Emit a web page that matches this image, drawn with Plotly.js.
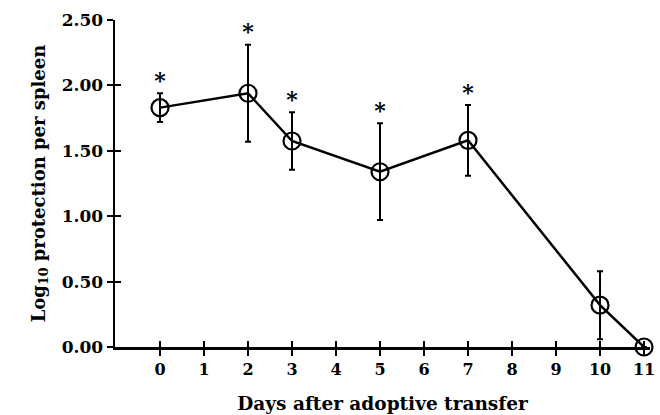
<!DOCTYPE html>
<html>
<head>
<meta charset="utf-8">
<script src="https://cdn.plot.ly/plotly-3.0.1.min.js"></script>
<style>html,body{margin:0;padding:0;background:#fff;}#chart{width:660px;height:415px;}</style>
</head>
<body>
<div id="chart"></div>
<script>
var days = [0, 2, 3, 5, 7, 10, 11];
var protection = [1.83, 1.94, 1.575, 1.34, 1.58, 0.32, 0.0];
var errorSE = [0.11, 0.37, 0.22, 0.37, 0.27, 0.26, 0];
var significant = [true, true, true, true, true, false, false];
var xTicks = [0, 1, 2, 3, 4, 5, 6, 7, 8, 9, 10, 11];
var yTicks = [0, 0.5, 1.0, 1.5, 2.0, 2.5];
var yTickText = ["0.00", "0.50", "1.00", "1.50", "2.00", "2.50"];

var FONT = "DejaVu Serif";
var starX = [], starY = [], starT = [];
days.forEach(function (d, i) {
  if (significant[i]) { starX.push(d); starY.push(protection[i] + errorSE[i]); starT.push("*"); }
});

var traces = [
  {
    x: days, y: protection, type: "scatter", mode: "lines+markers",
    line: {color: "#000", width: 2.5},
    marker: {symbol: "circle-open", size: 17, color: "#000", line: {width: 2.2, color: "#000"}},
    error_y: {type: "data", array: errorSE, visible: true, color: "#000", thickness: 2, width: 3},
    cliponaxis: false, hoverinfo: "skip", showlegend: false
  },
  {
    x: starX, y: starY, type: "scatter", mode: "text",
    text: starT, textposition: "top center",
    textfont: {family: FONT, size: 22, color: "#000", weight: "bold"},
    cliponaxis: false, hoverinfo: "skip", showlegend: false
  }
];

var xRange = [-1.023, 11.136];
var yRange = [0, 2.5];

var layout = {
  width: 660, height: 415,
  margin: {l: 115, r: 10, t: 20, b: 68},
  paper_bgcolor: "#fff", plot_bgcolor: "#fff",
  font: {family: FONT, color: "#000", weight: "bold"},
  showlegend: false,
  xaxis: {
    range: xRange, tickvals: xTicks, ticktext: xTicks.map(String),
    ticks: "outside", ticklen: 6, tickwidth: 2, tickcolor: "#000",
    showline: true, linewidth: 2.5, linecolor: "#000",
    showgrid: false, zeroline: false,
    tickfont: {family: FONT, size: 16, weight: "bold"},
    title: {text: "Days after adoptive transfer", font: {family: FONT, size: 18.5, weight: "bold"}, standoff: 20}
  },
  yaxis: {
    range: yRange, tickvals: yTicks, ticktext: yTickText,
    ticks: "outside", ticklen: 6, tickwidth: 2, tickcolor: "#000",
    showline: true, linewidth: 2.5, linecolor: "#000",
    showgrid: false, zeroline: false,
    tickfont: {family: FONT, size: 17, weight: "bold"},
    title: {text: "Log<sub>10</sub> protection per spleen", font: {family: FONT, size: 18, weight: "bold"}, standoff: 12}
  },
  xaxis2: {
    overlaying: "x", range: xRange, tickvals: xTicks, showticklabels: false,
    ticks: "inside", ticklen: 6, tickwidth: 2, tickcolor: "#000",
    showline: false, showgrid: false, zeroline: false, side: "bottom"
  },
  yaxis2: {
    overlaying: "y", range: yRange, tickvals: yTicks, showticklabels: false,
    ticks: "inside", ticklen: 6, tickwidth: 2, tickcolor: "#000",
    showline: false, showgrid: false, zeroline: false, side: "left"
  }
};

traces.push({x: [null], y: [null], xaxis: "x2", yaxis: "y2", type: "scatter", mode: "markers", showlegend: false, hoverinfo: "skip"});

Plotly.newPlot("chart", traces, layout, {staticPlot: true, displayModeBar: false});
</script>
</body>
</html>
